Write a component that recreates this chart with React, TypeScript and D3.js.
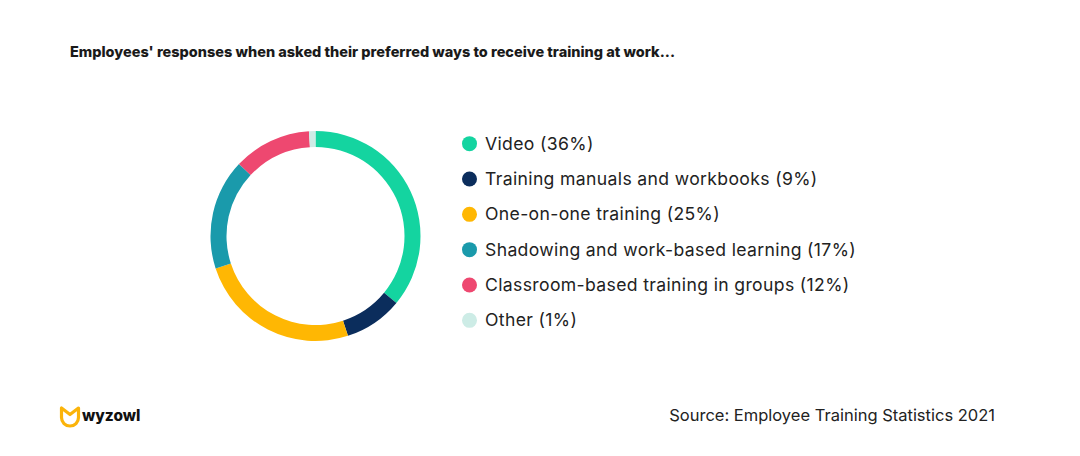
import React from "react";
import * as d3 from "d3";

const categories = [
  "Video",
  "Training manuals and workbooks",
  "One-on-one training",
  "Shadowing and work-based learning",
  "Classroom-based training in groups",
  "Other",
];
const values = [36, 9, 25, 17, 12, 1];
const colors = ["#14d4a0", "#0b2d5c", "#ffb703", "#1a9aab", "#ee4870", "#cdece6"];

const title = "Employees' responses when asked their preferred ways to receive training at work...";
const source = "Source: Employee Training Statistics 2021";

export default function App() {
  const W = 1080, H = 456;
  const cx = 315.5, cy = 236, rOuter = 105, rInner = 89;
  const data = categories.map((c, i) => ({ c, v: values[i], color: colors[i] }));
  const pie = d3.pie<any>().value((d) => d.v).sort(null).startAngle(0).endAngle(2 * Math.PI);
  const arc = d3.arc<any>().innerRadius(rInner).outerRadius(rOuter);
  const arcs = pie(data);
  const legendY = d3.scaleBand<number>().domain(d3.range(categories.length)).range([126, 338]);
  const font = "Inter, 'Noto Sans', sans-serif";
  return (
    <svg width={W} height={H} style={{ position: "absolute", left: 0, top: 0, background: "#fff" }}>
      <rect width={W} height={H} fill="#fff" />
      <text x={70} y={57} fontFamily={font} fontWeight={800} fontSize={14.4} fill="#1a1a1a" textLength={605} lengthAdjust="spacingAndGlyphs">
        {title}
      </text>
      <g transform={`translate(${cx},${cy})`}>
        {arcs.map((a, i) => (
          <path key={i} d={arc(a) as string} fill={a.data.color} />
        ))}
      </g>
      {data.map((d, i) => {
        const y = (legendY(i) as number) + legendY.bandwidth() / 2;
        return (
          <g key={i}>
            <circle cx={469.5} cy={y} r={7.5} fill={d.color} />
            <text x={485} y={y} dy="0.35em" fontFamily={font} fontSize={17.6} letterSpacing={0.35} fill="#222">
              {`${d.c} (${d.v}%)`}
            </text>
          </g>
        );
      })}
      <path
        d="M61.5,408 L61.5,417.5 A8.5,8.5 0 0 0 78.5,417.5 L78.5,408 L70,414.5 Z"
        fill="none"
        stroke="#fbb40a"
        strokeWidth={3.2}
        strokeLinejoin="round"
      />
      <text x={82} y={421} fontFamily={font} fontWeight={800} fontSize={15.4} fill="#111">
        wyzowl
      </text>
      <text x={995} y={421} textAnchor="end" fontFamily={font} fontSize={16.5} fill="#222">
        {source}
      </text>
    </svg>
  );
}
